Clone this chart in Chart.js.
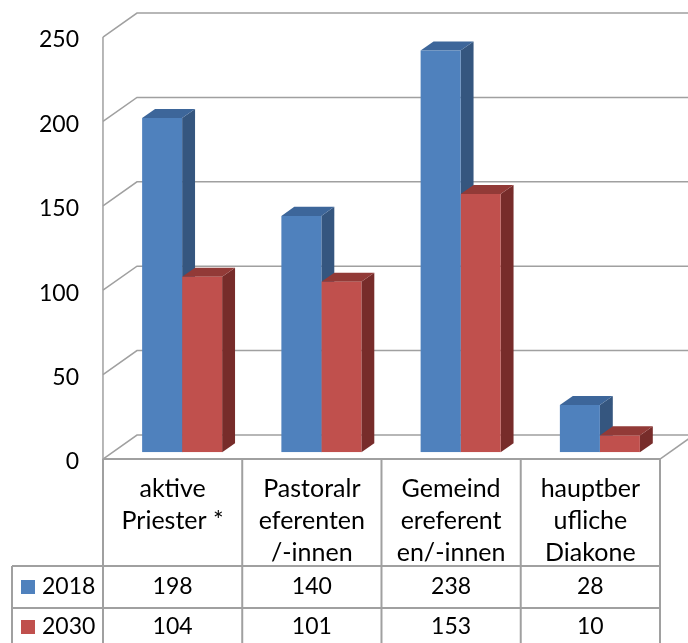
<!DOCTYPE html>
<html>
<head>
<meta charset="utf-8">
<script src="https://cdn.jsdelivr.net/npm/chart.js@4/dist/chart.umd.min.js"></script>
<style>
  html, body { margin: 0; padding: 0; background: #ffffff; }
  #wrap { width: 688px; height: 643px; position: relative; }
</style>
</head>
<body>
<div id="wrap"><canvas id="c"></canvas></div>
<script>
const categories = [
  ['aktive', 'Priester *'],
  ['Pastoralr', 'eferenten', '/-innen'],
  ['Gemeind', 'ereferent', 'en/-innen'],
  ['hauptber', 'ufliche', 'Diakone']
];
const seriesNames = ['2018', '2030'];
const values2018 = [198, 140, 238, 28];
const values2030 = [104, 101, 153, 10];
const yMin = 0, yMax = 250, yStep = 50;

const FRONT = ['#4F81BD', '#C0504D'];
const TOPC  = ['#3D669A', '#923A37'];
const SIDE  = ['#35567F', '#772C2A'];
const GRID = '#a0a0a0';
const FONT = 'Lato, "Open Sans", sans-serif';

// 3D geometry
const DX = 34, DY = -24;
const F = 0.28;
const BD = 0.38;
const SX = DX * F, SY = DY * F;

const threeD = {
  id: 'threeD',
  beforeDatasetsDraw(chart) {
    const ctx = chart.ctx;
    const ys = chart.scales.y;
    const ca = chart.chartArea;
    const fl = ca.left - SX;
    const fr = ca.right - SX;
    const fy = v => ys.getPixelForValue(v) - SY;
    ctx.save();
    ctx.strokeStyle = GRID;
    ctx.lineWidth = 1.5;
    for (let v = yMin; v <= yMax; v += yStep) {
      const y = fy(v);
      ctx.beginPath();
      ctx.moveTo(fl, y);
      ctx.lineTo(fl + DX, y + DY);
      ctx.lineTo(chart.width + 20, y + DY);
      ctx.stroke();
    }
    ctx.beginPath();
    ctx.moveTo(fl, fy(yMax));
    ctx.lineTo(fl, fy(yMin));
    ctx.stroke();
    ctx.beginPath();
    ctx.moveTo(fr, fy(yMin));
    ctx.lineTo(fr + DX, fy(yMin) + DY);
    ctx.stroke();
    const ddx = DX * BD, ddy = DY * BD;
    const n = chart.data.labels.length;
    for (let i = 0; i < n; i++) {
      chart.data.datasets.forEach((ds, di) => {
        const el = chart.getDatasetMeta(di).data[i];
        const l = el.x - el.width / 2, r = el.x + el.width / 2;
        const t = el.y, b = el.base;
        ctx.fillStyle = SIDE[di];
        ctx.beginPath();
        ctx.moveTo(r, t); ctx.lineTo(r + ddx, t + ddy);
        ctx.lineTo(r + ddx, b + ddy); ctx.lineTo(r, b);
        ctx.closePath(); ctx.fill();
        ctx.fillStyle = TOPC[di];
        ctx.beginPath();
        ctx.moveTo(l, t); ctx.lineTo(r, t);
        ctx.lineTo(r + ddx, t + ddy); ctx.lineTo(l + ddx, t + ddy);
        ctx.closePath(); ctx.fill();
      });
    }
    ctx.restore();
  },
  afterDraw(chart) {
    const ctx = chart.ctx;
    const ys = chart.scales.y;
    const ca = chart.chartArea;
    const n = chart.data.labels.length;
    const catW = ca.width / n;
    const fl = ca.left - SX;
    const fr = ca.right - SX;
    const topY = ys.getPixelForValue(yMin) - SY;
    const row1 = 566, row2 = 608, row3 = 646, legL = 12;
    ctx.save();
    ctx.strokeStyle = GRID;
    ctx.lineWidth = 2;
    ctx.beginPath(); ctx.moveTo(fl, topY); ctx.lineTo(fr, topY); ctx.stroke();
    for (let i = 0; i <= n; i++) {
      const x = fl + i * catW;
      ctx.beginPath(); ctx.moveTo(x, topY); ctx.lineTo(x, chart.height + 5); ctx.stroke();
    }
    ctx.beginPath(); ctx.moveTo(legL, row1); ctx.lineTo(legL, chart.height + 5); ctx.stroke();
    [row1, row2, row3].forEach(y => {
      ctx.beginPath(); ctx.moveTo(legL, y); ctx.lineTo(fr, y); ctx.stroke();
    });
    ctx.font = '23px ' + FONT;
    ctx.fillStyle = '#000';
    ctx.textBaseline = 'middle';
    const rowsY = [587, 627];
    chart.data.datasets.forEach((ds, di) => {
      ctx.textAlign = 'center';
      ds.data.forEach((v, i) => {
        ctx.fillText(String(v), fl + (i + 0.5) * catW, rowsY[di]);
      });
      ctx.fillStyle = FRONT[di];
      ctx.fillRect(21, rowsY[di] - 7, 14, 14);
      ctx.fillStyle = '#000';
      ctx.textAlign = 'left';
      ctx.fillText(ds.label, 42, rowsY[di]);
    });
    ctx.restore();
  }
};

new Chart(document.getElementById('c'), {
  type: 'bar',
  data: {
    labels: categories,
    datasets: [
      { label: seriesNames[0], data: values2018, backgroundColor: FRONT[0], borderWidth: 0 },
      { label: seriesNames[1], data: values2030, backgroundColor: FRONT[1], borderWidth: 0 }
    ]
  },
  options: {
    responsive: true,
    maintainAspectRatio: false,
    animation: false,
    devicePixelRatio: 1,
    layout: { autoPadding: false, padding: { top: 30.3, right: 18.5, left: 0, bottom: 0 } },
    plugins: { legend: { display: false }, tooltip: { enabled: false } },
    datasets: { bar: { categoryPercentage: 0.5745, barPercentage: 1 } },
    scales: {
      x: {
        grid: { display: false, drawTicks: false },
        border: { display: false },
        ticks: {
          autoSkip: false, maxRotation: 0, minRotation: 0,
          padding: 20.7, labelOffset: -SX,
          color: '#000',
          font: { family: FONT, size: 25, lineHeight: '32px' }
        },
        afterFit(s) { s.height = 190.7; }
      },
      y: {
        min: yMin, max: yMax,
        grid: { display: false, drawTicks: false },
        border: { display: false },
        ticks: {
          stepSize: yStep, padding: 33.5, labelOffset: -SY + 3,
          color: '#000',
          font: { family: FONT, size: 23 }
        },
        afterFit(s) { s.width = 112.5; s.paddingTop = 0; s.paddingBottom = 0; }
      }
    }
  },
  plugins: [threeD]
});
</script>
</body>
</html>
